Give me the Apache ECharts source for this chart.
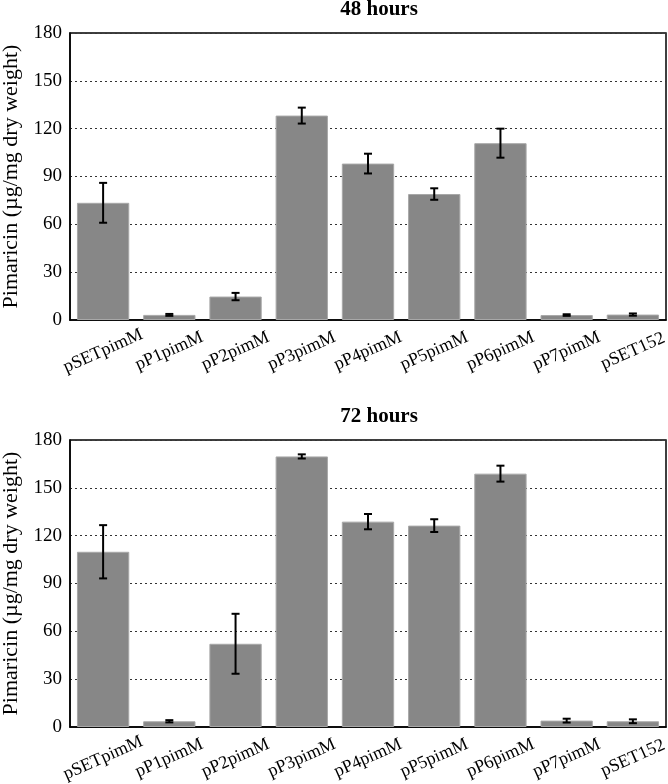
<!DOCTYPE html>
<html><head><meta charset="utf-8">
<script src="https://cdn.jsdelivr.net/npm/echarts@6/dist/echarts.min.js"></script>
<style>html,body{margin:0;padding:0;background:#fff}#c{width:668px;height:784px}</style>
</head><body><div id="c"></div>
<script>
const categories = ['pSETpimM','pP1pimM','pP2pimM','pP3pimM','pP4pimM','pP5pimM','pP6pimM','pP7pimM','pSET152'];
const mean48 = [73.5, 3.2, 14.7, 128.2, 98.1, 79.0, 110.9, 3.1, 3.4];
const err48  = [12.5, 0.6, 2.3, 5.0, 6.2, 3.6, 9.1, 0.5, 0.7];
const mean72 = [109.9, 3.6, 52.2, 169.7, 128.8, 126.3, 158.9, 4.0, 3.6];
const err72  = [16.7, 0.7, 18.8, 1.3, 4.8, 4.0, 5.0, 1.2, 1.2];
const yTicks = [0, 30, 60, 90, 120, 150, 180];
const titles = ['48 hours', '72 hours'];
const yName = 'Pimaricin (µg/mg dry weight)';

const FONT = 'Liberation Serif';
const grids = [
  {left: 70, top: 33, width: 596, height: 287},
  {left: 70, top: 440, width: 596, height: 287}
];
const chart = echarts.init(document.getElementById('c'));
const xAxes = [], yAxes = [], series = [];
[mean48, mean72].forEach((means, i) => {
  const errs = i === 0 ? err48 : err72;
  xAxes.push({
    type: 'category', gridIndex: i, data: categories,
    axisLine: {show: true, lineStyle: {color: '#000', width: 1.5}},
    axisTick: {show: false},
    axisLabel: {rotate: 24, interval: 0, fontFamily: FONT, fontSize: 18, color: '#000',
      align: 'center', verticalAlign: 'middle', margin: 31}
  });
  yAxes.push({
    type: 'value', gridIndex: i, min: yTicks[0], max: yTicks[yTicks.length-1], interval: 30,
    name: yName, nameLocation: 'middle', nameGap: 47,
    nameTextStyle: {fontFamily: FONT, fontSize: 22, color: '#000'},
    axisLine: {show: true, lineStyle: {color: '#000', width: 1.5}},
    axisTick: {show: false},
    axisLabel: {fontFamily: FONT, fontSize: 19, color: '#000', margin: 8},
    splitLine: {show: true, lineStyle: {type: [2, 3], color: '#333', width: 1}}
  });
  series.push({
    type: 'bar', xAxisIndex: i, yAxisIndex: i, data: means, barCategoryGap: '21%',
    itemStyle: {color: '#878787', borderColor: '#a8a8a8', borderWidth: 1}, silent: true, z: 2
  });
  series.push({
    type: 'custom', xAxisIndex: i, yAxisIndex: i, silent: true, z: 5,
    data: means.map((m, k) => [k, m - errs[k], m + errs[k]]),
    renderItem: function(params, api) {
      const x = api.value(0);
      const lo = api.coord([x, api.value(1)]);
      const hi = api.coord([x, api.value(2)]);
      const w = 4;
      const st = {stroke: '#000', lineWidth: 2};
      return {type: 'group', children: [
        {type: 'line', shape: {x1: lo[0], y1: lo[1], x2: hi[0], y2: hi[1]}, style: st},
        {type: 'line', shape: {x1: lo[0]-w, y1: lo[1], x2: lo[0]+w, y2: lo[1]}, style: st},
        {type: 'line', shape: {x1: hi[0]-w, y1: hi[1], x2: hi[0]+w, y2: hi[1]}, style: st}
      ]};
    },
    encode: {x: 0, y: [1, 2]}
  });
});
chart.setOption({
  animation: false,
  backgroundColor: '#fff',
  grid: grids.map(g => Object.assign({show: true, borderColor: '#000', borderWidth: 1.5,
    backgroundColor: 'transparent', containLabel: false, outerBoundsMode: 'none'}, g)),
  graphic: titles.map((t, i) => ({
    type: 'text',
    x: 379, y: i === 0 ? 10 : 417,
    style: {text: t, fontFamily: FONT, fontWeight: 'bold', fontSize: 21, fill: '#000', align: 'center', verticalAlign: 'middle'}
  })),
  xAxis: xAxes, yAxis: yAxes, series: series
});
</script></body></html>
